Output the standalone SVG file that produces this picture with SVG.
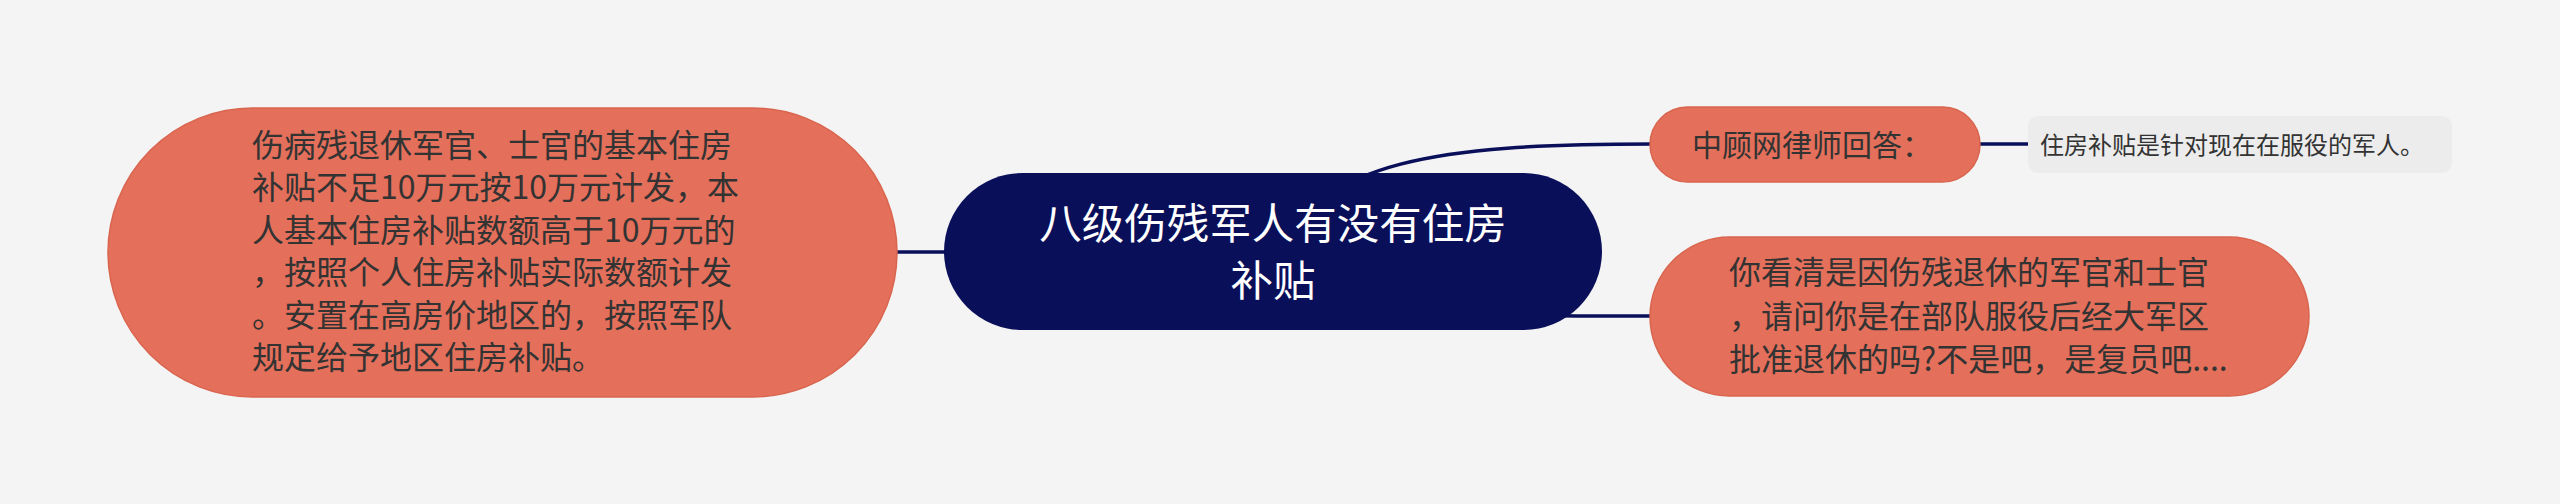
<svg xmlns="http://www.w3.org/2000/svg" width="2560" height="504" viewBox="0 0 2560 504">
<style>
.bg{fill:#f4f4f4}
.link{fill:none;stroke:#0a0f5a;stroke-width:3.5;stroke-linecap:round}
.root rect{fill:#0a0f5a}
.sub rect{fill:#e46f5a;stroke:#d9654f;stroke-width:1.5}
.leaf rect{fill:#ececec}
text{font-family:"Noto Sans CJK SC","Noto Sans",sans-serif}
.rt{fill:#ffffff;font-size:42.5px;text-anchor:middle}
.st{fill:#333333;font-size:32px}
.lt{fill:#333333;font-size:24px}
</style>
<rect class="bg" x="0" y="0" width="2560" height="504"/>
<g id="connectors">
<path class="link" d="M 1273 251 C 1330 162, 1430 144, 1652 144"/>
<path class="link" d="M 1273 251 C 1340 316, 1450 316, 1652 316"/>
<path class="link" d="M 960 252 L 895 252"/>
<path class="link" d="M 1975 144 L 2030 144"/>
</g>
<g id="root" class="root">
<rect x="944" y="173" width="658" height="157" rx="78.5" ry="78.5"/>
<text class="rt" x="1273" y="239">八级伤残军人有没有住房</text>
<text class="rt" x="1273" y="296">补贴</text>
</g>
<g id="left" class="sub">
<rect x="108" y="108" width="789" height="289" rx="144.5" ry="144.5"/>
<text class="st" x="252" y="157">伤病残退休军官、士官的基本住房</text>
<text class="st" x="252" y="199">补贴不足10万元按10万元计发，本</text>
<text class="st" x="252" y="242">人基本住房补贴数额高于10万元的</text>
<text class="st" x="252" y="284">，按照个人住房补贴实际数额计发</text>
<text class="st" x="252" y="327">。安置在高房价地区的，按照军队</text>
<text class="st" x="252" y="369">规定给予地区住房补贴。</text>
</g>
<g id="answer" class="sub">
<rect x="1650" y="107" width="330" height="75" rx="37.5" ry="37.5"/>
<text class="st" x="1812" y="156" style="font-size:30px;text-anchor:middle">中顾网律师回答：</text>
</g>
<g id="answer-leaf" class="leaf">
<rect x="2028" y="116" width="424" height="57" rx="10" ry="10"/>
<text class="lt" x="2040" y="154">住房补贴是针对现在在服役的军人。</text>
</g>
<g id="reply" class="sub">
<rect x="1650" y="237" width="659" height="159" rx="79.5" ry="79.5"/>
<text class="st" x="1729" y="284">你看清是因伤残退休的军官和士官</text>
<text class="st" x="1729" y="328">，请问你是在部队服役后经大军区</text>
<text class="st" x="1729" y="371">批准退休的吗?不是吧，是复员吧....</text>
</g>
</svg>
